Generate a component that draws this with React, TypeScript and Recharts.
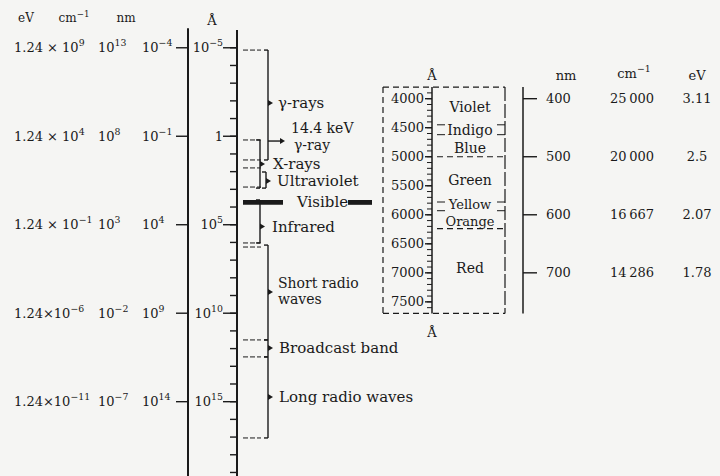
import React from 'react';
import {
  ComposedChart,
  XAxis,
  YAxis,
  Scatter,
  ReferenceLine,
  ReferenceArea,
} from 'recharts';

const FONT = '"DejaVu Serif", "Liberation Serif", serif';
const INK = '#1a1a1a';

// main scale, values are log10(wavelength / Å)
const decades = [-5, 0, 5, 10, 15];
const angExp = ['−5', '', '5', '10', '15'];
const nmExp = ['−4', '−1', '4', '9', '14'];
const cmExp = ['13', '8', '3', '−2', '−7'];
const eVExp = ['9', '4', '−1', '−6', '−11'];

// spectral regions (log10 Å)
const regionNames = ['γ-rays', 'X-rays', 'Ultraviolet', 'Infrared', 'Short radio\nwaves', 'Broadcast band', 'Long radio waves'];
const regionFrom = [-4.87, 0.21, 2.02, 3.6, 6.15, 11.51, 12.47];
const regionTo = [1.34, 2.93, 2.93, 6.03, 11.51, 12.47, 17.05];
const regionLabelAt = [-1.88, 1.57, 2.53, 5.1, 8.55, 11.97, 14.74];

// dashed boundary marks beside the Å scale (log10 Å)
const boundaryMarks = [-4.87, 0.21, 1.34, 1.79, 2.87, 6.03, 6.26, 11.51, 12.47, 17.05];
const gammaLine = 0.27; // 14.4 keV line
const visibleRange = [4000, 7500]; // Å

// visible detail, Å
const colourNames = ['Violet', 'Indigo', 'Blue', 'Green', 'Yellow', 'Orange', 'Red'];
const colourLabelAt = [4143, 4539, 4850, 5401, 5820, 6110, 6917];
const colourEdges = [4450, 4620, 5780, 5930];
const colourSplits = [5000, 6240];
const angTickLabels = [4000, 4500, 5000, 5500, 6000, 6500, 7000, 7500];
const nmRows = [400, 500, 600, 700];
const cmRows = ['25 000', '20 000', '16 667', '14 286'];
const eVRows = ['3.11', '2.5', '2.07', '1.78'];

// layout (x in px)
const regionBracketX = [268, 260, 266, 260, 268, 268, 268];
const regionLabelX = [278, 273, 277, 272, 278, 279, 279];

const TextMark = (p: any) => {
  const d = p.payload;
  if (p.cx == null || !d) return null;
  const size = d.size ?? 13;
  const lines = String(d.text).split('\n');
  return (
    <text
      x={p.cx}
      y={p.cy}
      dy="0.35em"
      textAnchor={d.anchor ?? 'start'}
      fontSize={size}
      fontFamily={FONT}
      fill={INK}
    >
      {lines.length > 1
        ? lines.map((l, i) => (
            <tspan key={i} x={p.cx} dy={i === 0 ? 0 : size * 1.15}>
              {l}
            </tspan>
          ))
        : d.text}
      {d.sup ? (
        <tspan dy={-size * 0.45} fontSize={size * 0.72}>
          {d.sup}
        </tspan>
      ) : null}
    </text>
  );
};

const Pointer = (p: any) => {
  if (p.cx == null) return null;
  return <polygon points={`${p.cx},${p.cy - 3} ${p.cx + 5},${p.cy} ${p.cx},${p.cy + 3}`} fill={INK} />;
};

const seg = (key: string, axis: string, x1: number, y1: number, x2: number, y2: number, extra: any = {}) => (
  <ReferenceLine
    key={key}
    yAxisId={axis}
    segment={[{ x: x1, y: y1 }, { x: x2, y: y2 }]}
    stroke={INK}
    strokeWidth={1.4}
    ifOverflow="visible"
    {...extra}
  />
);

const App = () => {
  const log10 = (v: number) => Math.log10(v);

  const leftText = [
    { x: 26, y: -6.68, text: 'eV', anchor: 'middle', size: 12 },
    { x: 74, y: -6.68, text: 'cm', sup: '−1', anchor: 'middle', size: 12 },
    { x: 126, y: -6.68, text: 'nm', anchor: 'middle', size: 12 },
    { x: 212, y: -6.57, text: 'Å', anchor: 'middle', size: 13 },
    ...decades.map((d, i) => ({ x: 14, y: d, text: i < 3 ? '1.24 × 10' : '1.24×10', sup: eVExp[i] })),
    ...decades.map((d, i) => ({ x: 98, y: d, text: '10', sup: cmExp[i] })),
    ...decades.map((d, i) => ({ x: 142, y: d, text: '10', sup: nmExp[i] })),
    ...decades.map((d, i) => ({
      x: 223,
      y: d,
      text: angExp[i] ? '10' : '1',
      sup: angExp[i] || undefined,
      anchor: 'end',
    })),
  ];

  const regionText = [
    ...regionNames.map((n, i) => ({ x: regionLabelX[i], y: regionLabelAt[i], text: n, size: i === 4 ? 14 : 15 })),
    { x: 291, y: -0.47, text: '14.4 keV', size: 14 },
    { x: 294, y: 0.49, text: 'γ-ray', size: 14 },
    { x: 297, y: 3.68, text: 'Visible', size: 15 },
  ];

  const pointers = [
    ...regionNames.map((_, i) => ({ x: regionBracketX[i], y: i === 4 ? regionLabelAt[i] + 0.25 : regionLabelAt[i] })),
    { x: 280, y: gammaLine },
  ];

  const visText = [
    { x: 432, y: 3592, text: 'Å', anchor: 'middle', size: 13 },
    { x: 432, y: 8019, text: 'Å', anchor: 'middle', size: 13 },
    ...angTickLabels.map((a) => ({ x: 424, y: a, text: String(a), anchor: 'end', size: 13 })),
    ...colourNames.map((c, i) => ({ x: 470, y: colourLabelAt[i], text: c, anchor: 'middle', size: i === 4 || i === 5 ? 13 : 14 })),
    { x: 566, y: 3592, text: 'nm', anchor: 'middle', size: 13 },
    { x: 634, y: 3560, text: 'cm', sup: '−1', anchor: 'middle', size: 13 },
    { x: 697, y: 3592, text: 'eV', anchor: 'middle', size: 13 },
    ...nmRows.map((n) => ({ x: 546, y: n * 10, text: String(n), size: 13 })),
    ...nmRows.map((n, i) => ({ x: 632, y: n * 10, text: cmRows[i].replace(' ', '\u2009'), anchor: 'middle', size: 13 })),
    ...nmRows.map((n, i) => ({ x: 697, y: n * 10, text: eVRows[i], anchor: 'middle', size: 13 })),
  ];

  const minorDecades = Array.from({ length: 25 }, (_, i) => i - 5);
  const minorAng = Array.from({ length: 38 }, (_, i) => 3900 + i * 100);

  return (
    <div style={{ position: 'absolute', left: 0, top: 0, width: 720, height: 476, background: '#f5f5f3' }}>
      <ComposedChart width={720} height={476} margin={{ top: 0, right: 0, bottom: 0, left: 0 }}>
        <XAxis type="number" dataKey="x" domain={[0, 720]} hide />
        <YAxis yAxisId="log" type="number" dataKey="y" domain={[-7.7, 19.2]} reversed hide />
        <YAxis yAxisId="vis" type="number" dataKey="y" domain={[2300, 10500]} reversed hide />

        {/* main scales */}
        {seg('nmAxis', 'log', 188, -6.1, 188, 19.2, { strokeWidth: 2 })}
        {seg('angAxis', 'log', 237, -6.0, 237, 19.2, { strokeWidth: 2 })}
        {decades.map((d) => seg(`nt${d}`, 'log', 176, d, 188, d))}
        {decades.map((d) => seg(`at${d}`, 'log', 223, d, 237, d))}
        {minorDecades.map((d) => seg(`mt${d}`, 'log', 230, d, 237, d))}
        {boundaryMarks.map((m, i) => seg(`bm${i}`, 'log', 243, m, 261, m, { strokeDasharray: '5 2', strokeWidth: 1 }))}

        {/* region brackets */}
        {regionNames.map((_, i) => seg(`rv${i}`, 'log', regionBracketX[i], regionFrom[i], regionBracketX[i], regionTo[i]))}
        {regionNames.map((_, i) => seg(`rh${i}`, 'log', regionBracketX[i] - 4, regionFrom[i], regionBracketX[i], regionFrom[i]))}
        {regionNames.map((_, i) => seg(`rl${i}`, 'log', regionBracketX[i] - 4, regionTo[i], regionBracketX[i], regionTo[i]))}
        {seg('gamma', 'log', 268, gammaLine, 280, gammaLine)}

        <ReferenceArea yAxisId="log" x1={243} x2={283} y1={log10(visibleRange[0])} y2={log10(visibleRange[1])} fill={INK} fillOpacity={1} stroke="none" ifOverflow="visible" />
        <ReferenceArea yAxisId="log" x1={348} x2={372} y1={log10(visibleRange[0])} y2={log10(visibleRange[1])} fill={INK} fillOpacity={1} stroke="none" ifOverflow="visible" />

        {/* visible detail */}
        {seg('boxTop', 'vis', 383, 3800, 505, 3800, { strokeDasharray: '6 4', strokeWidth: 1.2 })}
        {seg('boxBot', 'vis', 383, 7700, 505, 7700, { strokeDasharray: '6 4', strokeWidth: 1.2 })}
        {seg('boxL', 'vis', 383, 3800, 383, 7700, { strokeDasharray: '6 4', strokeWidth: 1.2 })}
        {seg('boxR', 'vis', 505, 3800, 505, 7700, { strokeDasharray: '14 3', strokeWidth: 1.2 })}
        {seg('visAxis', 'vis', 432, 3800, 432, 7700, { strokeWidth: 1.5 })}
        {minorAng.map((a) => seg(`va${a}`, 'vis', 427, a, 432, a, { strokeWidth: 1 }))}
        {angTickLabels.map((a) => seg(`vl${a}`, 'vis', 425, a, 432, a))}
        {colourSplits.map((a) => seg(`cs${a}`, 'vis', 437, a, 505, a, { strokeDasharray: '6 4', strokeWidth: 1.2 }))}
        {colourEdges.map((a) => seg(`cel${a}`, 'vis', 437, a, 445, a, { strokeWidth: 1 }))}
        {colourEdges.map((a) => seg(`cer${a}`, 'vis', 497, a, 505, a, { strokeWidth: 1 }))}
        {seg('nmAxisR', 'vis', 523, 3800, 523, 7700, { strokeWidth: 1.5 })}
        {nmRows.map((n) => seg(`nr${n}`, 'vis', 523, n * 10, 537, n * 10))}

        <Scatter yAxisId="log" data={pointers} dataKey="y" shape={Pointer} isAnimationActive={false} />
        <Scatter yAxisId="log" data={leftText} dataKey="y" shape={TextMark} isAnimationActive={false} />
        <Scatter yAxisId="log" data={regionText} dataKey="y" shape={TextMark} isAnimationActive={false} />
        <Scatter yAxisId="vis" data={visText} dataKey="y" shape={TextMark} isAnimationActive={false} />
      </ComposedChart>
    </div>
  );
};

export default App;
